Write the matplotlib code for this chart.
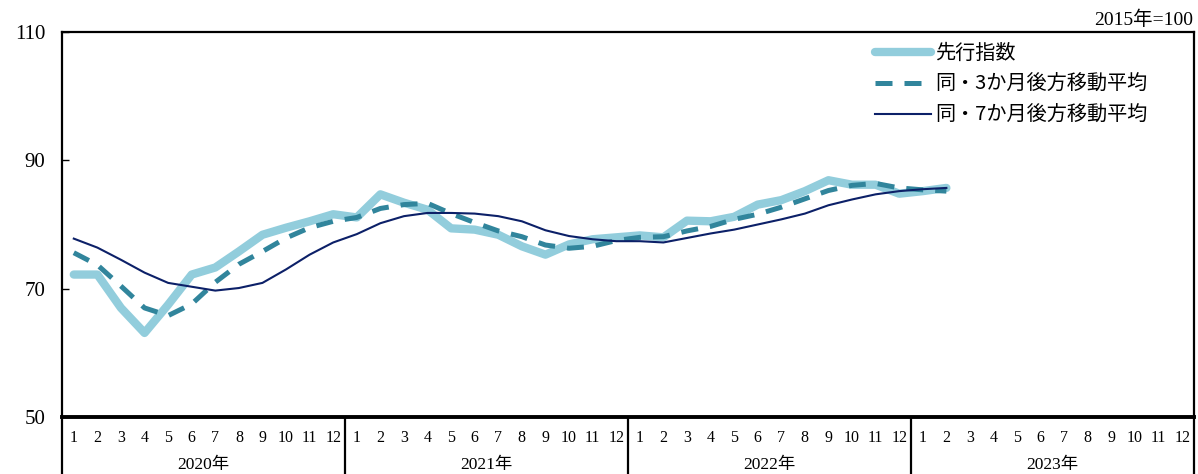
import matplotlib
matplotlib.use("Agg")
import matplotlib.pyplot as plt
import matplotlib.transforms as mtransforms
import numpy as np

years = ["2020年", "2021年", "2022年", "2023年"]
months = [str(m) for m in range(1, 13)] * 4

leading = [72.2, 72.2, 67.0, 63.1, 67.5, 72.2, 73.3, 75.8, 78.4, 79.5, 80.5, 81.6,
           81.1, 84.7, 83.4, 82.3, 79.4, 79.2, 78.4, 76.6, 75.3, 76.9, 77.7, 78.0,
           78.3, 78.0, 80.6, 80.5, 81.2, 83.1, 83.8, 85.2, 86.9, 86.2, 86.2, 84.8,
           85.2, 85.7]
ma3 = [75.6, 73.7, 70.4, 67.0, 65.8, 67.6, 71.0, 73.8, 75.8, 77.9, 79.5, 80.5,
       81.1, 82.5, 83.1, 83.3, 81.7, 80.3, 79.0, 78.1, 76.8, 76.3, 76.6, 77.5,
       78.0, 78.1, 79.0, 79.7, 80.8, 81.6, 82.7, 84.0, 85.3, 86.1, 86.4, 85.7,
       85.4, 85.2]
ma7 = [77.8, 76.4, 74.5, 72.5, 70.9, 70.3, 69.7, 70.1, 70.9, 73.0, 75.3, 77.2,
       78.5, 80.2, 81.3, 81.8, 81.8, 81.7, 81.3, 80.5, 79.1, 78.2, 77.7, 77.4,
       77.4, 77.2, 77.9, 78.6, 79.2, 80.0, 80.8, 81.7, 83.0, 83.9, 84.7, 85.2,
       85.5, 85.7]
series_labels = ["先行指数", "同・3か月後方移動平均", "同・7か月後方移動平均"]
yticks = [50, 70, 90, 110]

c_lead = "#92CDDC"
c_ma3 = "#31859C"
c_ma7 = "#0C2068"

serif = ["Liberation Serif", "Noto Sans CJK JP"]
gothic = ["Noto Sans CJK JP", "DejaVu Sans"]

W, H = 1198, 474
fig = plt.figure(figsize=(W / 100, H / 100), dpi=100)
L, R, T, B = 62, 1194, 32, 417
ax = fig.add_axes([L / W, (H - B) / H, (R - L) / W, (B - T) / H])

x = np.arange(len(leading))
ax.plot(x, leading, color=c_lead, lw=6, solid_capstyle="round",
        solid_joinstyle="round", label=series_labels[0], zorder=2)
ax.plot(np.arange(len(ma3)), ma3, color=c_ma3, lw=3.6, dashes=(3.4, 2.4),
        dash_capstyle="butt", label=series_labels[1], zorder=3)
ax.plot(np.arange(len(ma7)), ma7, color=c_ma7, lw=1.5, label=series_labels[2],
        zorder=4)

ax.set_xlim(-0.5, 47.5)
ax.set_ylim(50, 110)
ax.set_yticks(yticks)
ax.set_yticklabels([str(v) for v in yticks], family=serif, fontsize=15)
ax.tick_params(axis="y", direction="in", length=5, width=1, pad=12, color="#000000")

ax.set_xticks(np.arange(48))
ax.set_xticklabels(months, family=serif, fontsize=11.5)
ax.tick_params(axis="x", length=0, pad=9)

for s in ["top", "left", "right"]:
    ax.spines[s].set_linewidth(1.6)
ax.spines["bottom"].set_linewidth(2.8)

trans = mtransforms.blended_transform_factory(ax.transData, ax.transAxes)
depth = -(H - B) / (B - T)
for xv in [-0.5, 11.5, 23.5, 35.5, 47.5]:
    ax.plot([xv, xv], [0, depth], transform=trans, color="black", lw=1.6,
            clip_on=False, solid_capstyle="butt")
for i, y in enumerate(years):
    ax.text(i * 12 + 5.5, -(465 - B) / (B - T), y, transform=trans,
            ha="center", va="center", family=serif, fontsize=12.5)

fig.text(1193 / W, 1 - 20 / H, "2015年=100", ha="right", va="center",
         family=serif, fontsize=14)

leg = ax.legend(loc="upper left", bbox_to_anchor=((875 - L) / (R - L), 1 - (43 - T) / (B - T)),
                frameon=False, prop={"family": gothic, "size": 14.5},
                handlelength=2.8, handletextpad=0.2, labelspacing=0.5,
                borderpad=0, borderaxespad=0)

fig.savefig("out.png", dpi=100)
